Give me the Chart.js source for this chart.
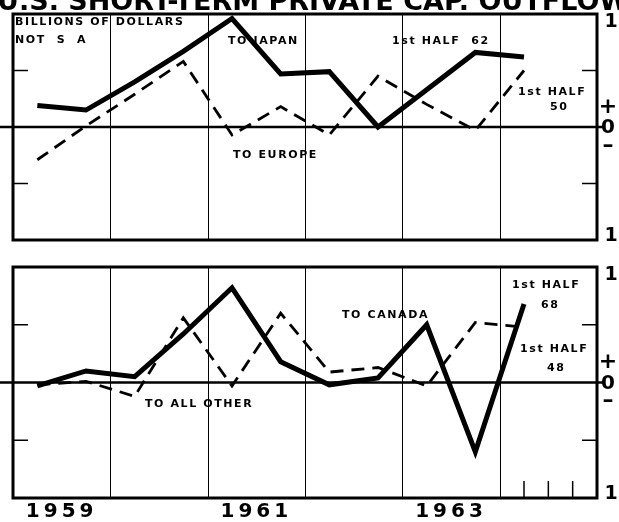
<!DOCTYPE html>
<html>
<head>
<meta charset="utf-8">
<script src="https://cdn.jsdelivr.net/npm/chart.js@4.4.1/dist/chart.umd.min.js"></script>
<style>
  html, body { margin: 0; padding: 0; background: #fff; }
  #wrap { position: relative; width: 619px; height: 522px; overflow: hidden; }
  #top { position: absolute; left: 0; top: 0; }
  #bottom { position: absolute; left: 0; top: 250px; }
</style>
</head>
<body>
<div id="wrap">
  <canvas id="top" width="619" height="250"></canvas>
  <canvas id="bottom" width="619" height="272"></canvas>
</div>
<script>
// half-year periods, 1959 H1 .. 1964 H1 (billions of dollars, not seas. adj.)
const periods = ['1959 H1', '1959 H2', '1960 H1', '1960 H2', '1961 H1', '1961 H2',
                 '1962 H1', '1962 H2', '1963 H1', '1963 H2', '1964 H1'];
const toJapan    = [0.19, 0.15, 0.40, 0.67, 0.96, 0.47, 0.49, 0.00, 0.33, 0.66, 0.62];
const toEurope   = [-0.29, 0.01, 0.29, 0.58, -0.07, 0.18, -0.07, 0.45, 0.20, -0.03, 0.50];
const toCanada   = [-0.03, 0.10, 0.05, 0.42, 0.82, 0.18, -0.02, 0.04, 0.50, -0.60, 0.68];
const toAllOther = [-0.02, 0.01, -0.12, 0.56, -0.03, 0.60, 0.09, 0.13, -0.03, 0.52, 0.48];
const yearLabels = ['1959', '1961', '1963'];
const firstYear = 1959;

const FONT = "'DejaVu Sans', sans-serif";

function points(vals) {
  return vals.map((v, i) => {
    const yr = parseInt(periods[i]) - firstYear;
    const half = periods[i].endsWith('H2') ? 0.5 : 0;
    return { x: yr + half + 0.25, y: v };
  });
}

function txt(ctx, s, x, y, font, align, spacing, baseline) {
  ctx.font = font;
  ctx.letterSpacing = (spacing || 0) + 'px';
  ctx.textAlign = align || 'left';
  ctx.textBaseline = baseline || 'middle';
  ctx.fillText(s, x, y);
}

// frame, year grid, zero line, side ticks and the printed labels
const panelDecor = {
  id: 'panelDecor',
  beforeDatasetsDraw(chart, args, opts) {
    const ctx = chart.ctx;
    const a = chart.chartArea;
    const xs = chart.scales.x, ys = chart.scales.y;
    ctx.save();
    ctx.strokeStyle = '#000';
    // year grid lines
    ctx.lineWidth = 1;
    for (let v = 1; v < 6; v++) {
      const px = Math.round(xs.getPixelForValue(v)) + 0.5;
      ctx.beginPath(); ctx.moveTo(px, a.top); ctx.lineTo(px, a.bottom); ctx.stroke();
    }
    // +/- 0.5 ticks on both sides
    ctx.lineWidth = 1.5;
    [0.5, -0.5].forEach(v => {
      const py = ys.getPixelForValue(v);
      ctx.beginPath(); ctx.moveTo(a.left, py); ctx.lineTo(a.left + 15, py); ctx.stroke();
      ctx.beginPath(); ctx.moveTo(a.right - 15, py); ctx.lineTo(a.right, py); ctx.stroke();
    });
    // quarter ticks in the last year
    if (opts.quarterTicks) {
      [5.25, 5.5, 5.75].forEach(v => {
        const px = xs.getPixelForValue(v);
        ctx.beginPath(); ctx.moveTo(px, a.bottom); ctx.lineTo(px, a.bottom - 17); ctx.stroke();
      });
    }
    // zero line, extends past the frame
    ctx.lineWidth = 2.5;
    const zy = ys.getPixelForValue(0);
    ctx.beginPath(); ctx.moveTo(0, zy); ctx.lineTo(a.right + 6, zy); ctx.stroke();
    // frame
    ctx.lineWidth = 3;
    ctx.strokeRect(a.left, a.top, a.right - a.left, a.bottom - a.top);
    ctx.restore();
  },
  afterDraw(chart, args, opts) {
    const ctx = chart.ctx;
    const a = chart.chartArea;
    const xs = chart.scales.x, ys = chart.scales.y;
    ctx.save();
    ctx.fillStyle = '#000';
    (opts.labels || []).forEach(l => txt(ctx, l[0], l[1], l[2], 'bold 11px ' + FONT, 'left', 1.6));
    // right side scale marks
    const rx = a.right + 14;
    txt(ctx, '1', rx, ys.getPixelForValue(1) + 8, 'bold 19px ' + FONT, 'center');
    txt(ctx, '+', rx - 3, ys.getPixelForValue(0) - 20, 'bold 22px ' + FONT, 'center');
    txt(ctx, '0', rx - 3, ys.getPixelForValue(0) + 1, 'bold 20px ' + FONT, 'center');
    txt(ctx, '\u2013', rx - 3, ys.getPixelForValue(0) + 19, 'bold 22px ' + FONT, 'center');
    txt(ctx, '1', rx, ys.getPixelForValue(-1) - 4, 'bold 19px ' + FONT, 'center');
    if (opts.title) {
      txt(ctx, opts.title, -3, 10, 'bold 27px ' + FONT, 'left', 0, 'alphabetic');
    }
    if (opts.years) {
      yearLabels.forEach(y => {
        const px = xs.getPixelForValue(parseInt(y) - firstYear + 0.5);
        txt(ctx, y, px, a.bottom + 14, 'bold 20px ' + FONT, 'center', 4);
      });
    }
    ctx.restore();
  }
};

function makeChart(id, solid, dashed, padding, decor) {
  return new Chart(document.getElementById(id), {
    type: 'line',
    data: {
      datasets: [
        { data: points(solid), borderColor: '#000', borderWidth: 5, pointRadius: 0,
          tension: 0, borderJoinStyle: 'miter' },
        { data: points(dashed), borderColor: '#000', borderWidth: 2.8, pointRadius: 0,
          tension: 0, borderDash: [13, 8] }
      ]
    },
    options: {
      responsive: false,
      animation: false,
      layout: { padding: padding },
      plugins: { legend: { display: false }, tooltip: { enabled: false }, panelDecor: decor },
      scales: {
        x: { type: 'linear', min: 0, max: 6, display: false },
        y: { min: -1, max: 1, display: false }
      }
    },
    plugins: [panelDecor]
  });
}

makeChart('top', toJapan, toEurope, { left: 13, right: 22, top: 14, bottom: 10 }, {
  title: 'U.S. SHORT-TERM PRIVATE CAP. OUTFLOWS',
  labels: [
    ['BILLIONS OF DOLLARS', 15, 22],
    ['NOT  S  A', 15, 40],
    ['TO JAPAN', 228, 41],
    ['1st HALF  62', 392, 41],
    ['1st HALF', 518, 92],
    ['50', 550, 107],
    ['TO EUROPE', 233, 155]
  ]
});

makeChart('bottom', toCanada, toAllOther, { left: 13, right: 22, top: 17, bottom: 24 }, {
  years: true,
  quarterTicks: true,
  labels: [
    ['TO ALL OTHER', 145, 154],
    ['TO CANADA', 342, 65],
    ['1st HALF', 512, 35],
    ['68', 541, 55],
    ['1st HALF', 520, 99],
    ['48', 547, 118]
  ]
});
</script>
</body>
</html>
